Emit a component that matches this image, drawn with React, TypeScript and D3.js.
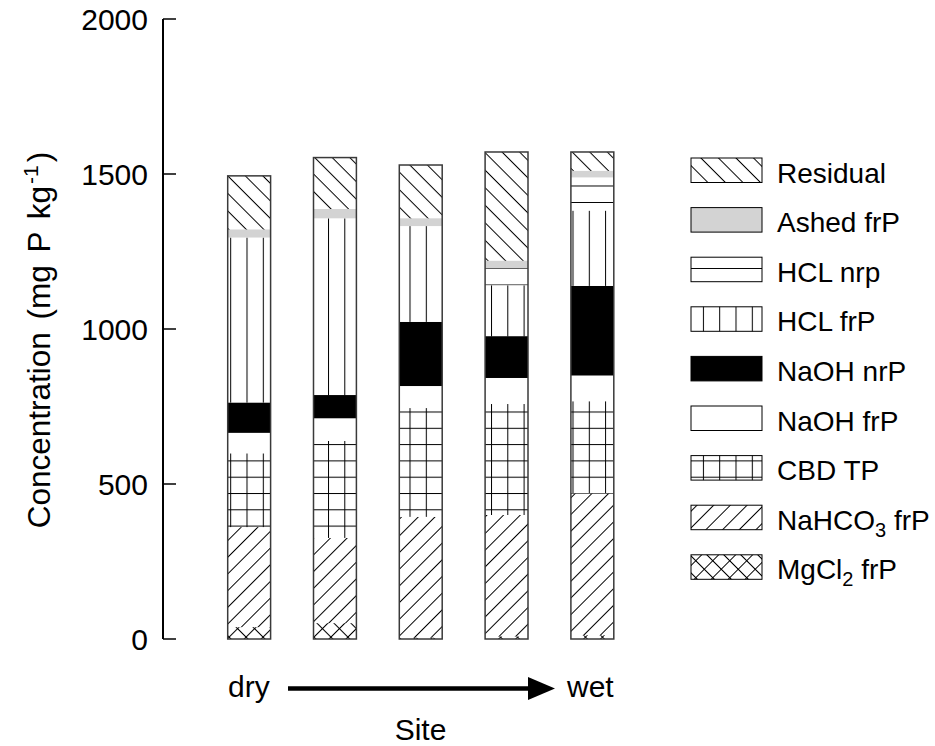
import React from "react";
import * as d3 from "d3";

// ---- data ----
const sites = ["S1", "S2", "S3", "S4", "S5"];
const fractionKeys = ["mgcl2", "nahco3", "cbd", "naohFr", "naohNr", "hclFr", "hclNr", "ashed", "residual"];
const mgcl2Frp = [38, 51, 4, 8, 12];
const nahco3Frp = [323, 275, 390, 392, 457];
const cbdTp = [238, 313, 351, 358, 298];
const naohFrp = [66, 73, 71, 84, 83];
const naohNrp = [98, 75, 207, 135, 289];
const hclFrp = [532, 570, 309, 164, 243];
const hclNrp = [0, 0, 0, 55, 107];
const ashedFrp = [26, 30, 25, 24, 21];
const residual = [173, 166, 172, 351, 61];
const yTicks = [0, 500, 1000, 1500, 2000];
// legend order (top to bottom)
const legendKeys = ["residual", "ashed", "hclNr", "hclFr", "naohNr", "naohFr", "cbd", "nahco3", "mgcl2"];

const seriesValues: Record<string, number[]> = {
  mgcl2: mgcl2Frp,
  nahco3: nahco3Frp,
  cbd: cbdTp,
  naohFr: naohFrp,
  naohNr: naohNrp,
  hclFr: hclFrp,
  hclNr: hclNrp,
  ashed: ashedFrp,
  residual: residual,
};

const fills: Record<string, string> = {
  mgcl2: "url(#p-cross)",
  nahco3: "url(#p-fwd)",
  cbd: "url(#p-grid)",
  naohFr: "#ffffff",
  naohNr: "#000000",
  hclFr: "url(#p-vert)",
  hclNr: "url(#p-horiz)",
  ashed: "#d3d3d3",
  residual: "url(#p-back)",
};

const FONT = "'Liberation Sans', Arial, Helvetica, sans-serif";
const FS = 28;
const FS_AX = 30;

function LegendLabel({ k }: { k: string }) {
  switch (k) {
    case "residual":
      return <>Residual</>;
    case "ashed":
      return <>Ashed frP</>;
    case "hclNr":
      return <>HCL nrp</>;
    case "hclFr":
      return <>HCL frP</>;
    case "naohNr":
      return <>NaOH nrP</>;
    case "naohFr":
      return <>NaOH frP</>;
    case "cbd":
      return <>CBD TP</>;
    case "nahco3":
      return (
        <>
          NaHCO<tspan dy={7} fontSize={20}>3</tspan>
          <tspan dy={-7}> frP</tspan>
        </>
      );
    case "mgcl2":
      return (
        <>
          MgCl<tspan dy={7} fontSize={20}>2</tspan>
          <tspan dy={-7}> frP</tspan>
        </>
      );
    default:
      return null;
  }
}

export default function App() {
  const width = 935;
  const height = 746;

  const x = d3
    .scaleBand<string>()
    .domain(sites)
    .range([184.8, 656.7])
    .paddingInner(0.5)
    .paddingOuter(0.5);
  const y = d3.scaleLinear().domain([0, 2000]).range([639, 19]);

  const table = sites.map((s, i) => {
    const row: Record<string, any> = { site: s };
    fractionKeys.forEach((k) => (row[k] = seriesValues[k][i]));
    return row;
  });
  const stacked = d3.stack<Record<string, any>>().keys(fractionKeys)(table);

  const axisX = 163;
  const legendX = 691;
  const legendTop = 158;
  const legendStep = 49.6;
  const swW = 71;
  const swH = 24.5;

  return (
    <div style={{ position: "absolute", left: 0, top: 0 }}>
      <svg width={width} height={height} style={{ display: "block", background: "#fff" }}>
        <defs>
          <pattern id="p-back" patternUnits="userSpaceOnUse" width={12.4} height={12.4} patternTransform="rotate(45)">
            <line x1={0} y1={0.5} x2={12.4} y2={0.5} stroke="#000" strokeWidth={1} />
          </pattern>
          <pattern id="p-fwd" patternUnits="userSpaceOnUse" width={11.8} height={11.8} patternTransform="rotate(-45)">
            <line x1={0} y1={0.5} x2={11.8} y2={0.5} stroke="#000" strokeWidth={1} />
          </pattern>
          <pattern id="p-cross" patternUnits="userSpaceOnUse" width={12} height={12} patternTransform="rotate(45)">
            <rect width={12} height={12} fill="#fff" />
            <line x1={0} y1={0.5} x2={12} y2={0.5} stroke="#000" strokeWidth={1} />
            <line x1={0.5} y1={0} x2={0.5} y2={12} stroke="#000" strokeWidth={1} />
          </pattern>
          <pattern id="p-grid" patternUnits="userSpaceOnUse" width={16.3} height={16.3} x={2} y={4}>
            <rect width={16.3} height={16.3} fill="#fff" />
            <line x1={0} y1={0.5} x2={16.3} y2={0.5} stroke="#000" strokeWidth={1} />
            <line x1={0.5} y1={0} x2={0.5} y2={16.3} stroke="#000" strokeWidth={1} />
          </pattern>
          <pattern id="p-vert" patternUnits="userSpaceOnUse" width={16.3} height={16.3} x={2}>
            <rect width={16.3} height={16.3} fill="#fff" />
            <line x1={0.5} y1={0} x2={0.5} y2={16.3} stroke="#000" strokeWidth={1} />
          </pattern>
          <pattern id="p-horiz" patternUnits="userSpaceOnUse" width={16} height={16.5} y={4}>
            <rect width={16} height={16.5} fill="#fff" />
            <line x1={0} y1={0.5} x2={16} y2={0.5} stroke="#000" strokeWidth={1} />
          </pattern>
        </defs>

        {/* bars */}
        {stacked.map((layer) => (
          <g key={layer.key}>
            {layer.map((d, i) => {
              const h = y(d[0]) - y(d[1]);
              if (h <= 0) return null;
              return (
                <rect
                  key={i}
                  x={x(sites[i])}
                  y={y(d[1])}
                  width={x.bandwidth()}
                  height={h}
                  fill={fills[layer.key]}
                  stroke="none"
                />
              );
            })}
          </g>
        ))}
        {/* bar outlines */}
        {sites.map((s, i) => {
          const top = stacked[stacked.length - 1][i][1];
          return (
            <rect
              key={s}
              x={x(s)}
              y={y(top)}
              width={x.bandwidth()}
              height={y(0) - y(top)}
              fill="none"
              stroke="#3a3a3a"
              strokeWidth={1.5}
            />
          );
        })}

        {/* y axis */}
        <line x1={axisX} y1={y(2000)} x2={axisX} y2={y(0)} stroke="#000" strokeWidth={2} />
        {yTicks.map((t) => (
          <g key={t}>
            <line x1={axisX} x2={axisX + 13} y1={y(t)} y2={y(t)} stroke="#000" strokeWidth={1.5} />
            <text x={148} y={y(t) + 11} textAnchor="end" fontFamily={FONT} fontSize={FS_AX} fill="#000">
              {t}
            </text>
          </g>
        ))}
        <text
          transform={`translate(50, 340) rotate(-90)`}
          textAnchor="middle"
          fontFamily={FONT}
          fontSize={31.5}
          wordSpacing={4}
          fill="#000"
        >
          Concentration (mg P kg<tspan dx={2} dy={-12} fontSize={21}>-1</tspan>
          <tspan dx={3} dy={12}>)</tspan>
        </text>

        {/* x annotation */}
        <text x={228} y={697} fontFamily={FONT} fontSize={FS_AX} fill="#000">dry</text>
        <text x={567} y={697} fontFamily={FONT} fontSize={FS_AX} fill="#000">wet</text>
        <line x1={288} y1={688.5} x2={530} y2={688.5} stroke="#000" strokeWidth={4.5} />
        <polygon points="528,677 555,688.5 528,700" fill="#000" />
        <text x={420.5} y={740} textAnchor="middle" fontFamily={FONT} fontSize={FS_AX} fill="#000">Site</text>

        {/* legend */}
        {legendKeys.map((k, i) => {
          const ty = legendTop + i * legendStep;
          return (
            <g key={k}>
              <rect x={legendX} y={ty} width={swW} height={swH} fill={fills[k]} stroke="#000" strokeWidth={1} />
              <text x={777} y={ty + swH} fontFamily={FONT} fontSize={FS} fill="#000">
                <LegendLabel k={k} />
              </text>
            </g>
          );
        })}
      </svg>
    </div>
  );
}
